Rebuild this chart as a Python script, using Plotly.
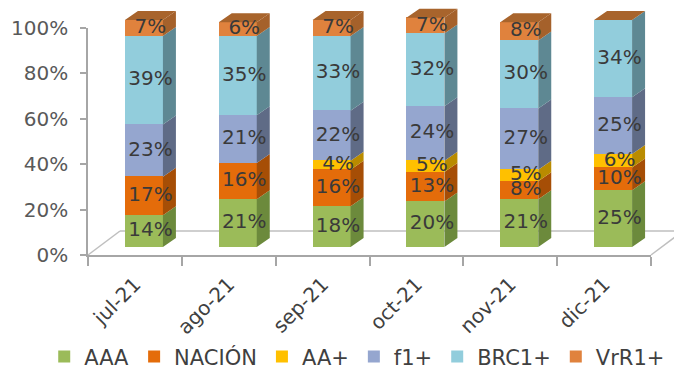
import plotly.graph_objects as go

# ---- data -------------------------------------------------------------
months = ["jul-21", "ago-21", "sep-21", "oct-21", "nov-21", "dic-21"]
series_names = ["AAA", "NACIÓN", "AA+", "f1+", "BRC1+", "VrR1+"]
aaa = [14, 21, 18, 20, 21, 25]
nacion = [17, 16, 16, 13, 8, 10]
aa_plus = [0, 0, 4, 5, 5, 6]
f1_plus = [23, 21, 22, 24, 27, 25]
brc1_plus = [39, 35, 33, 32, 30, 34]
vrr1_plus = [7, 6, 7, 7, 8, 0]
y_ticks = [0, 20, 40, 60, 80, 100]

series_values = [aaa, nacion, aa_plus, f1_plus, brc1_plus, vrr1_plus]
front_colors = ["#9BBB59", "#E46C0A", "#FFC000", "#95A6CF", "#92CDDC", "#E0823D"]
side_colors = ["#6C8A3C", "#A64E06", "#B98B00", "#5F6B86", "#5E8893", "#A5612B"]
top_color = "#A8642C"

W, H = 674, 369
X_START_PX = 88         # left end of the category axis (y axis line)
X_END_PX = 651          # right end of the category axis
Y_TOP_PX = 28           # pixel row of the 100% tick
BASE_PX = 255           # pixel row of the 0% tick
BAR_SHIFT = (9, 8)      # front faces sit a little behind the floor edge
BAR_DEPTH = (13, 9)     # side/top face offset of each column
FLOOR_DEPTH = (32, 24)  # depth of the floor plane
BAR_WIDTH = 0.405
Y2_MAX = 106

n = len(months)
cat_px = (X_END_PX - X_START_PX) / n
unit_px = (BASE_PX - Y_TOP_PX) / 100.0


def px(xp):
    return xp / W


def py(yp):
    return (H - yp) / H


fig = go.Figure()

# carrier trace so the category / percentage axes get drawn
fig.add_trace(go.Scatter(
    x=months, y=[None] * n, mode="markers", xaxis="x", yaxis="y",
    showlegend=False, hoverinfo="skip",
))

# front faces
for name, vals, col in zip(series_names, series_values, front_colors):
    fig.add_trace(go.Bar(
        x=list(range(n)), y=vals, name=name, marker=dict(color=col, line=dict(width=0)),
        width=BAR_WIDTH, xaxis="x2", yaxis="y2", hoverinfo="skip",
    ))

# side faces and top faces computed from the stacked values
dx = BAR_DEPTH[0] / cat_px
dy = BAR_DEPTH[1] / unit_px
cum = [0.0] * n
label_x, label_y, label_t = [], [], []
for vals, col in zip(series_values, side_colors):
    xs, ys = [], []
    for i, v in enumerate(vals):
        y0, y1 = cum[i], cum[i] + v
        xr = i + BAR_WIDTH / 2
        if v > 0:
            xs += [xr, xr + dx, xr + dx, xr, xr, None]
            ys += [y0, y0 + dy, y1 + dy, y1, y0, None]
            label_x.append(i + dx / 2)
            label_y.append((y0 + y1) / 2)
            label_t.append(f"{v}%")
        cum[i] = y1
    fig.add_trace(go.Scatter(
        x=xs, y=ys, mode="lines", fill="toself", fillcolor=col,
        line=dict(width=0, color=col), xaxis="x2", yaxis="y2",
        showlegend=False, hoverinfo="skip",
    ))

tx, ty = [], []
for i in range(n):
    xl, xr, t = i - BAR_WIDTH / 2, i + BAR_WIDTH / 2, cum[i]
    tx += [xl, xr, xr + dx, xl + dx, xl, None]
    ty += [t, t, t + dy, t + dy, t, None]
fig.add_trace(go.Scatter(
    x=tx, y=ty, mode="lines", fill="toself", fillcolor=top_color,
    line=dict(width=0, color=top_color), xaxis="x2", yaxis="y2",
    showlegend=False, hoverinfo="skip",
))

# data labels
fig.add_trace(go.Scatter(
    x=label_x, y=label_y, text=label_t, mode="text",
    textfont=dict(family="DejaVu Sans", size=20, color="#3A3A3A"),
    xaxis="x2", yaxis="y2", showlegend=False, hoverinfo="skip", cliponaxis=False,
))

# ---- floor ------------------------------------------------------------
fx, fy = FLOOR_DEPTH
floor_color = "#BFBFBF"
floor_pts = [(X_START_PX, BASE_PX), (X_START_PX + fx, BASE_PX - fy),
             (X_END_PX + fx, BASE_PX - fy), (X_END_PX, BASE_PX)]
shapes = []
for (xa, ya), (xb, yb) in zip(floor_pts[:-1], floor_pts[1:]):
    shapes.append(dict(
        type="line", xref="paper", yref="paper", layer="below",
        x0=px(xa), y0=py(ya), x1=px(xb), y1=py(yb),
        line=dict(color=floor_color, width=1.5),
    ))

fig.update_layout(
    width=W, height=H,
    margin=dict(l=0, r=0, t=0, b=0, pad=0, autoexpand=False),
    paper_bgcolor="white", plot_bgcolor="rgba(0,0,0,0)",
    barmode="stack", bargap=0,
    font=dict(family="DejaVu Sans", color="#595959"),
    shapes=shapes,
    xaxis=dict(
        type="category", domain=[px(X_START_PX), px(X_END_PX)], range=[-0.5, n - 0.5],
        tickson="boundaries", ticks="outside", ticklen=9, tickcolor="#A6A6A6", tickwidth=1.5,
        showline=True, linecolor="#A6A6A6", linewidth=1.5, showgrid=False, zeroline=False,
        tickangle=-45, tickfont=dict(size=20, color="#404040"), fixedrange=True,
        automargin=False, ticklabelstandoff=8,
    ),
    yaxis=dict(
        domain=[py(BASE_PX), py(Y_TOP_PX)], range=[0, 100],
        tickmode="array", tickvals=y_ticks, ticktext=[f"{v}%" for v in y_ticks],
        ticks="outside", ticklen=6, tickcolor="#A6A6A6", tickwidth=1.5,
        showline=True, linecolor="#A6A6A6", linewidth=1.5, showgrid=False, zeroline=False,
        tickfont=dict(size=20, color="#595959"), fixedrange=True,
        automargin=False, ticklabelstandoff=8,
    ),
    xaxis2=dict(
        domain=[px(X_START_PX + BAR_SHIFT[0]), px(X_END_PX + BAR_SHIFT[0])], range=[-0.5, n - 0.5],
        anchor="y2", visible=False, fixedrange=True,
    ),
    yaxis2=dict(
        domain=[py(BASE_PX - BAR_SHIFT[1]), py(BASE_PX - BAR_SHIFT[1] - Y2_MAX * unit_px)],
        range=[0, Y2_MAX], anchor="x2", visible=False, fixedrange=True,
    ),
    legend=dict(
        orientation="h", xref="container", yref="container", x=0.53, y=0.033,
        xanchor="center", yanchor="middle", font=dict(size=21, color="#404040"),
        traceorder="normal", itemwidth=30, tracegroupgap=0,
    ),
)

fig.write_html("out.html")
